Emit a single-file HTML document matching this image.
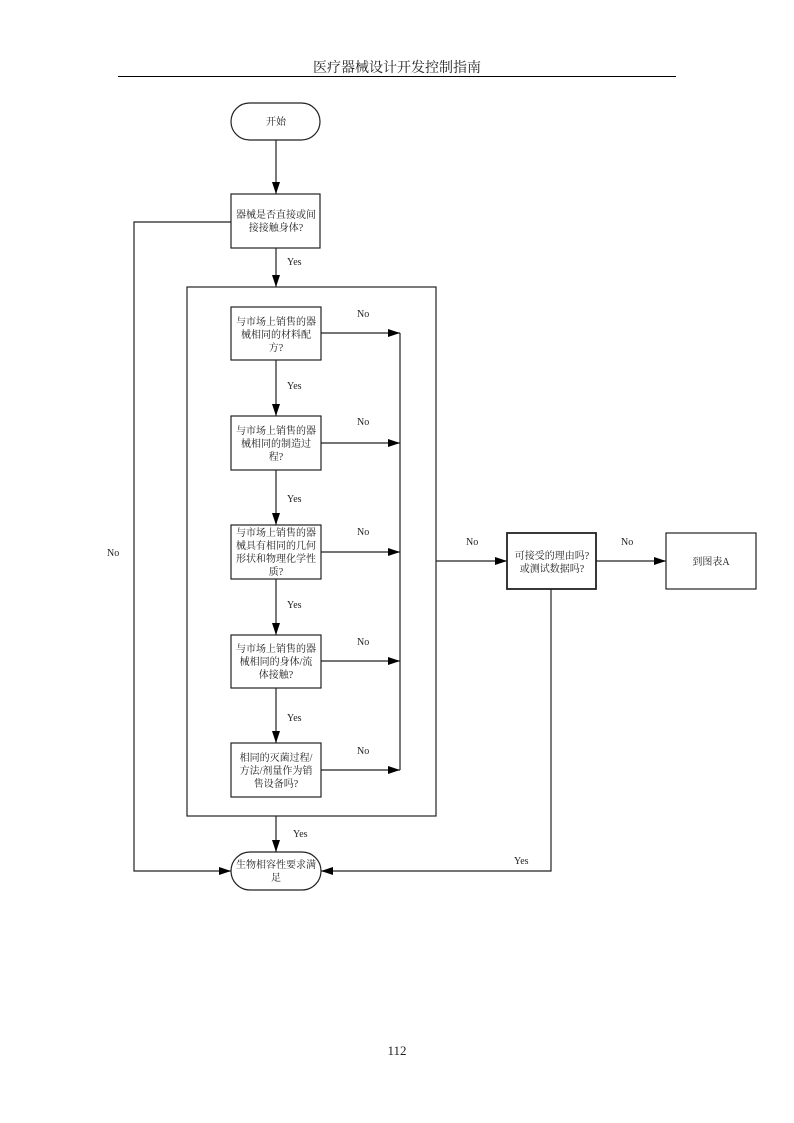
<!DOCTYPE html>
<html><head><meta charset="utf-8"><style>
html,body{margin:0;padding:0;background:#fff;}
svg{display:block;}
text{font-family:"Liberation Serif","Noto Serif CJK SC","Noto Sans CJK SC",serif;fill:#222;}
.s{font-size:10px;}
</style></head><body>
<svg width="794" height="1123" viewBox="0 0 794 1123" xmlns="http://www.w3.org/2000/svg">
<defs><marker id="a" markerWidth="12" markerHeight="8" refX="12" refY="4" orient="auto" markerUnits="userSpaceOnUse"><path d="M0,0 L12,4 L0,8 z" fill="#000"/></marker></defs>
<text x="397" y="72" font-size="14" text-anchor="middle">医疗器械设计开发控制指南</text>
<line x1="118" y1="76.5" x2="676" y2="76.5" stroke="#000" stroke-width="1"/>
<g stroke="#222" stroke-width="1.2" fill="none">
<rect x="231" y="103" width="89" height="37" rx="18.5"/>
<rect x="231" y="194" width="89" height="54"/>
<rect x="187" y="287" width="249" height="529"/>
<rect x="231" y="307" width="90" height="53"/>
<rect x="231" y="416" width="90" height="54"/>
<rect x="231" y="525" width="90" height="54"/>
<rect x="231" y="635" width="90" height="53"/>
<rect x="231" y="743" width="90" height="54"/>
<rect x="507" y="533" width="89" height="56" stroke-width="1.8"/>
<rect x="666" y="533" width="90" height="56"/>
<rect x="231" y="852" width="90" height="38" rx="19"/>
<line x1="276" y1="140" x2="276" y2="194" marker-end="url(#a)"/>
<line x1="276" y1="248" x2="276" y2="287" marker-end="url(#a)"/>
<polyline points="231,222 134,222 134,871 231,871" marker-end="url(#a)"/>
<line x1="276" y1="360" x2="276" y2="416" marker-end="url(#a)"/>
<line x1="276" y1="470" x2="276" y2="525" marker-end="url(#a)"/>
<line x1="276" y1="579" x2="276" y2="635" marker-end="url(#a)"/>
<line x1="276" y1="688" x2="276" y2="743" marker-end="url(#a)"/>
<line x1="321" y1="333" x2="400" y2="333" marker-end="url(#a)"/>
<line x1="321" y1="443" x2="400" y2="443" marker-end="url(#a)"/>
<line x1="321" y1="552" x2="400" y2="552" marker-end="url(#a)"/>
<line x1="321" y1="661" x2="400" y2="661" marker-end="url(#a)"/>
<line x1="321" y1="770" x2="400" y2="770" marker-end="url(#a)"/>
<line x1="400" y1="333" x2="400" y2="770"/>
<line x1="436" y1="561" x2="507" y2="561" marker-end="url(#a)"/>
<line x1="596" y1="561" x2="666" y2="561" marker-end="url(#a)"/>
<polyline points="551,589 551,871 321,871" marker-end="url(#a)"/>
<line x1="276" y1="816" x2="276" y2="852" marker-end="url(#a)"/>
</g>
<g class="s" text-anchor="middle">
<text x="276" y="125">开始</text>
<text x="276" y="218">器械是否直接或间</text><text x="276" y="231">接接触身体?</text>
<text x="276" y="325">与市场上销售的器</text><text x="276" y="338">械相同的材料配</text><text x="276" y="351">方?</text>
<text x="276" y="434">与市场上销售的器</text><text x="276" y="447">械相同的制造过</text><text x="276" y="460">程?</text>
<text x="276" y="536">与市场上销售的器</text><text x="276" y="549">械具有相同的几何</text><text x="276" y="562">形状和物理化学性</text><text x="276" y="575">质?</text>
<text x="276" y="652">与市场上销售的器</text><text x="276" y="665">械相同的身体/流</text><text x="276" y="678">体接触?</text>
<text x="276" y="761">相同的灭菌过程/</text><text x="276" y="774">方法/剂量作为销</text><text x="276" y="787">售设备吗?</text>
<text x="552" y="559">可接受的理由吗?</text><text x="552" y="572">或测试数据吗?</text>
<text x="711" y="565">到图表A</text>
<text x="276" y="868">生物相容性要求满</text><text x="276" y="881">足</text>
</g>
<g class="s">
<text x="287" y="265">Yes</text>
<text x="287" y="389">Yes</text><text x="287" y="502">Yes</text><text x="287" y="608">Yes</text><text x="287" y="721">Yes</text>
<text x="293" y="837">Yes</text><text x="514" y="864">Yes</text>
<text x="357" y="317">No</text><text x="357" y="425">No</text><text x="357" y="535">No</text><text x="357" y="645">No</text><text x="357" y="754">No</text>
<text x="466" y="545">No</text><text x="621" y="545">No</text><text x="107" y="556">No</text>
</g>
<text x="397" y="1055" font-size="13" text-anchor="middle">112</text>
</svg>
</body></html>
